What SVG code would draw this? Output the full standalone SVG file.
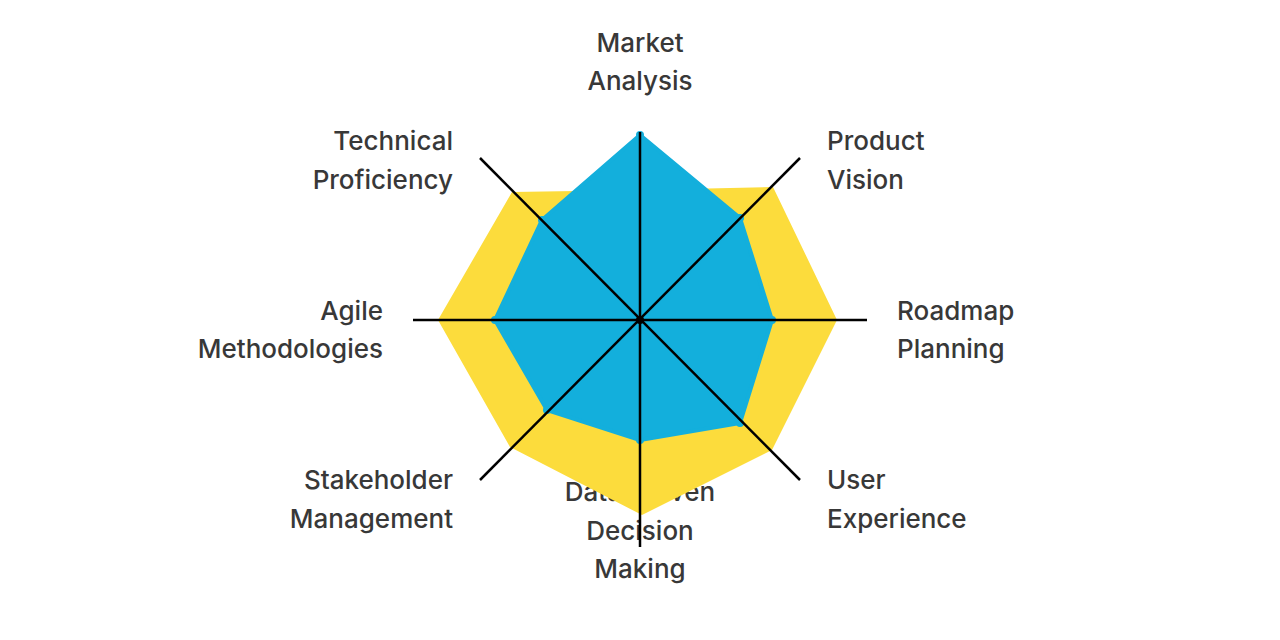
<svg xmlns="http://www.w3.org/2000/svg" width="1280" height="640" viewBox="0 0 1280 640">
<style>
text{font-family:Inter,"Noto Sans","Liberation Sans",sans-serif;font-size:26px;font-weight:500;fill:#383838}
.e{text-anchor:end}.m{text-anchor:middle}
.ax{stroke:#000;stroke-width:2.5}
</style>
<rect width="1280" height="640" fill="#fff"/>
<g id="labels">
<text class="m" x="640" y="52">Market</text><text class="m" x="640" y="90">Analysis</text>
<text class="e" x="453" y="150">Technical</text><text class="e" x="453" y="189">Proficiency</text>
<text x="827" y="150">Product</text><text x="827" y="189">Vision</text>
<text class="e" x="383" y="320">Agile</text><text class="e" x="383" y="358">Methodologies</text>
<text x="897" y="320">Roadmap</text><text x="897" y="358">Planning</text>
<text class="e" x="453" y="489">Stakeholder</text><text class="e" x="453" y="528">Management</text>
<text x="827" y="489">User</text><text x="827" y="528">Experience</text>
<text class="m" x="640" y="501">Data-Driven</text><text class="m" x="640" y="540">Decision</text><text class="m" x="640" y="578">Making</text>
</g>
<g id="series-yellow"><polygon fill="#fcdc3c" points="640,190 773,187 837,320 772,450 642,515 510,447 438,320 512,192"/></g>
<g id="series-blue"><polygon fill="#13afdc" stroke="#13afdc" stroke-width="4" stroke-linejoin="round" points="640,135 740,218 772,320 740,423 640,440 547,410 495,320 542,220"/>
<g fill="#13afdc"><circle cx="640" cy="135" r="4"/><circle cx="740" cy="218" r="4"/><circle cx="772" cy="320" r="4"/><circle cx="740" cy="423" r="4"/><circle cx="640" cy="440" r="4"/><circle cx="547" cy="410" r="4"/><circle cx="495" cy="320" r="4"/><circle cx="542" cy="220" r="4"/></g></g>
<g id="connectors">
<line class="ax" x1="640" y1="132" x2="640" y2="547"/>
<line class="ax" x1="413" y1="320" x2="867" y2="320"/>
<line class="ax" x1="480" y1="158" x2="800" y2="480"/>
<line class="ax" x1="800" y1="158" x2="480" y2="480"/>
<circle cx="640" cy="320" r="4" fill="#000"/>
</g>
</svg>
